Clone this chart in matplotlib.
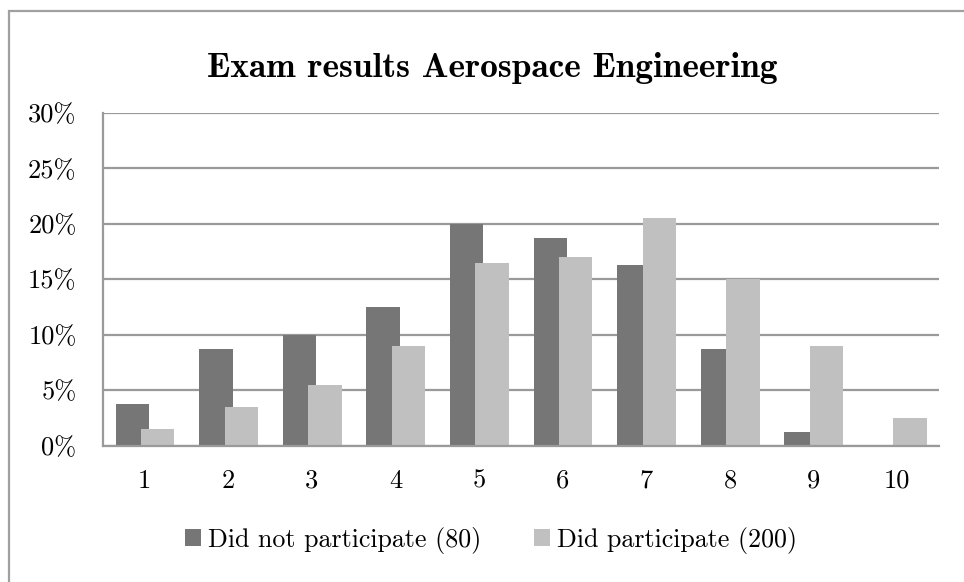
import matplotlib
matplotlib.use('Agg')
import matplotlib.pyplot as plt
import numpy as np
from matplotlib.patches import Rectangle

# Dati
grades = ['1', '2', '3', '4', '5', '6', '7', '8', '9', '10']
not_participate = [3.75, 8.75, 10.0, 12.5, 20.0, 18.75, 16.25, 8.75, 1.25, 0.0]
participate = [1.5, 3.5, 5.5, 9.0, 16.5, 17.0, 20.5, 15.0, 9.0, 2.5]
yticks = [0, 5, 10, 15, 20, 25, 30]
series_names = ['Did not participate (80)', 'Did participate (200)']

W, H = 964, 582
fig = plt.figure(figsize=(W / 100, H / 100), dpi=100)

# cornice esterna (esce dall'immagine a destra e in basso)
fig.patches.append(Rectangle((9 / W, -0.05), 1.1, 1 - 11 / H + 0.05,
                             transform=fig.transFigure, fill=False,
                             edgecolor='#a0a0a0', linewidth=1.6))

ax = fig.add_axes([103 / W, 1 - 445.5 / H, 836 / W, (445.5 - 113) / H])

x = np.arange(len(grades))
width = 0.40
ax.bar(x - 0.15, not_participate, width, color='#767676', zorder=3,
       label=series_names[0])
ax.bar(x + 0.155, participate, width, color='#c0c0c0', zorder=4,
       label=series_names[1])

ax.set_xlim(-0.5, len(grades) - 0.5)
ax.set_ylim(0, 30)
ax.set_yticks(yticks)
ax.set_yticklabels([f'{v}%' for v in yticks], family='cmr10', fontsize=19)
ax.set_xticks(x)
ax.set_xticklabels(grades, family='cmr10', fontsize=19)
ax.tick_params(axis='y', length=0, pad=19)
ax.tick_params(axis='x', length=0, pad=17)

ax.yaxis.grid(True, color='#9a9a9a', linewidth=1.6, zorder=0)
for s in ['top', 'right']:
    ax.spines[s].set_visible(False)
for s in ['left', 'bottom']:
    ax.spines[s].set_color('#9a9a9a')
    ax.spines[s].set_linewidth(1.6)
    ax.spines[s].set_zorder(5)

fig.text(492 / W, 1 - 77 / H, 'Exam results Aerospace Engineering',
         family='cmb10', fontsize=25.5, ha='center', va='baseline')

fig.legend(loc='center', bbox_to_anchor=(491 / W, 1 - 540 / H), ncol=2,
           frameon=False, prop={'family': 'cmr10', 'size': 18.7},
           handlelength=0.62, handleheight=0.6, handletextpad=0.3,
           columnspacing=2.0, borderpad=0)

fig.savefig('out.png', dpi=100)
